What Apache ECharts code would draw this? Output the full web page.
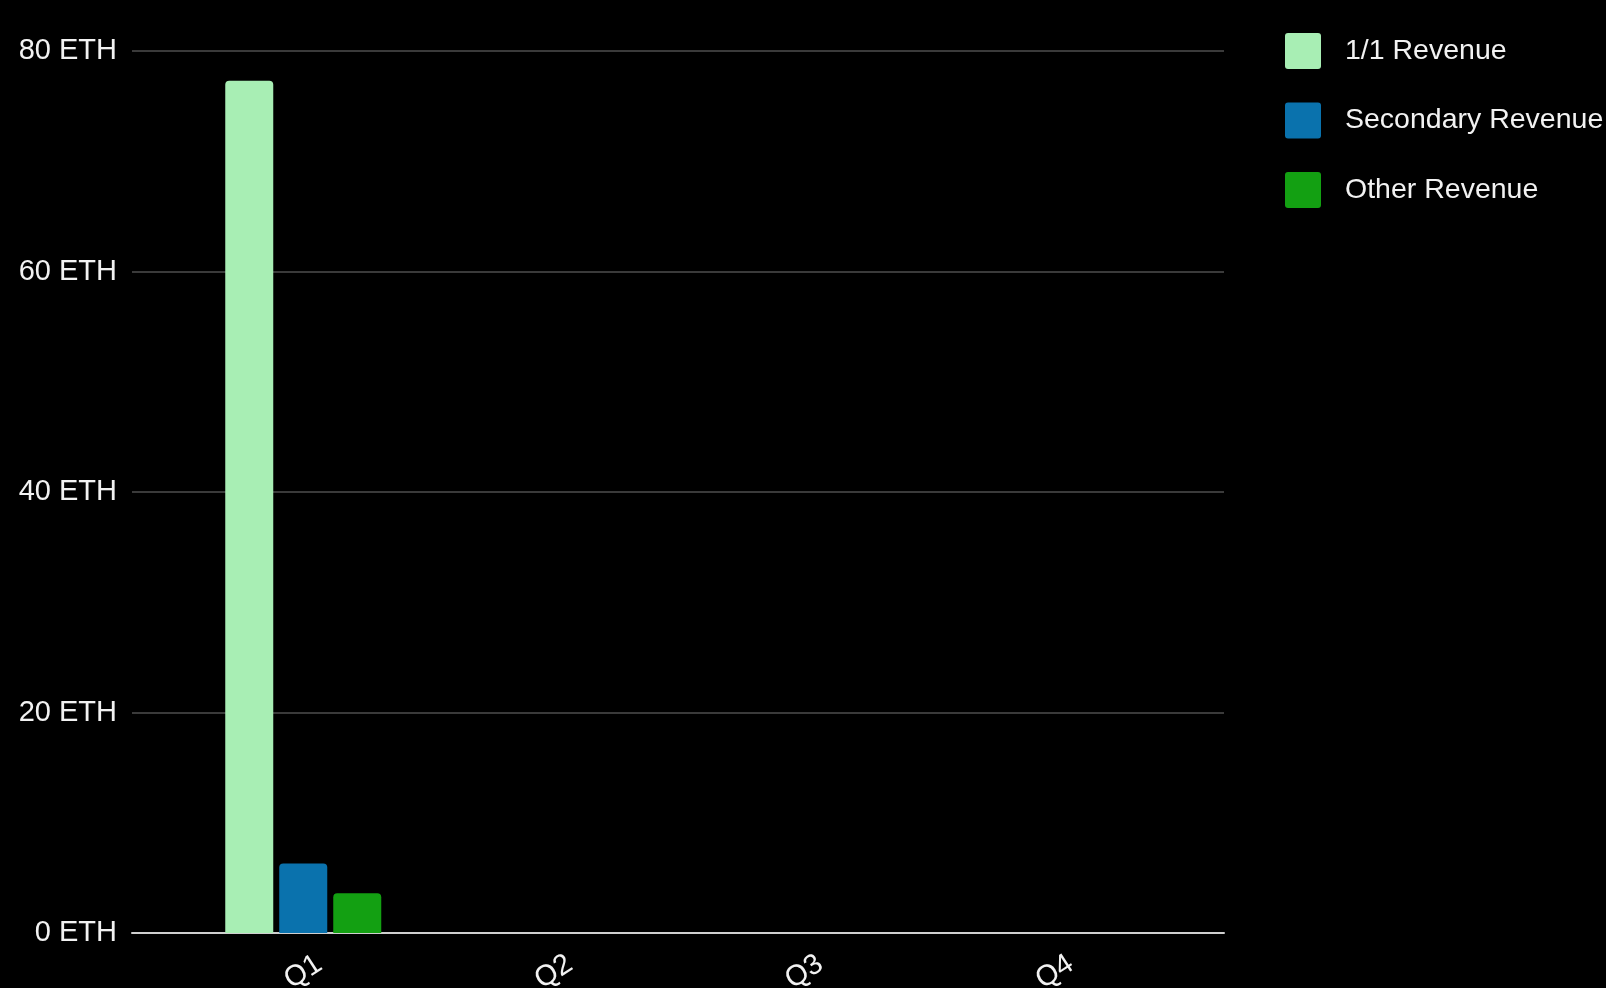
<!DOCTYPE html>
<html>
<head>
<meta charset="utf-8">
<script src="https://cdn.jsdelivr.net/npm/echarts@6/dist/echarts.min.js"></script>
<style>
html,body{margin:0;padding:0;background:#000;}
#chart{width:1606px;height:988px;}
</style>
</head>
<body>
<div id="chart"></div>
<script>
const categories = ['Q1', 'Q2', 'Q3', 'Q4'];
const seriesNames = ['1/1 Revenue', 'Secondary Revenue', 'Other Revenue'];
const oneOfOneRevenue = [77.3, 0, 0, 0];
const secondaryRevenue = [6.3, 0, 0, 0];
const otherRevenue = [3.6, 0, 0, 0];
const yTicks = [0, 20, 40, 60, 80];
const colors = ['#a8eeb4', '#0a72ad', '#13a012'];

const chart = echarts.init(document.getElementById('chart'));
const font = 'Liberation Sans, Arial, sans-serif';
const barStyle = (c) => ({ color: c, borderRadius: [4, 4, 0, 0] });
const legendIcon = 'path://M3,0 H33 Q36,0 36,3 V33 Q36,36 33,36 H3 Q0,36 0,33 V3 Q0,0 3,0 Z';

chart.setOption({
  backgroundColor: '#000',
  animation: false,
  textStyle: { fontFamily: font },
  legend: {
    orient: 'vertical',
    left: 1285,
    top: 33,
    padding: 0,
    itemWidth: 36,
    itemHeight: 36,
    itemGap: 33.5,
    icon: legendIcon,
    textStyle: { color: '#f2f2f2', fontSize: 28.5, fontFamily: font, padding: [0, 0, 0, 19] },
    data: seriesNames
  },
  grid: [
    { left: 132, right: 382, top: 51, bottom: 55, containLabel: false, outerBoundsMode: 'none' },
    { left: 178, right: 426, top: 51, bottom: 55, containLabel: false, outerBoundsMode: 'none' }
  ],
  xAxis: [
    {
      gridIndex: 0, type: 'category', data: [''],
      axisLine: { lineStyle: { color: '#cfcfcf', width: 2 } },
      axisTick: { show: false }, axisLabel: { show: false }, splitLine: { show: false }
    },
    {
      gridIndex: 1, type: 'category', data: categories,
      axisLine: { show: false }, axisTick: { show: false },
      axisLabel: {
        color: '#f2f2f2', fontSize: 29, fontFamily: font, rotate: 33,
        align: 'center', verticalAlign: 'middle', margin: 39
      }
    }
  ],
  yAxis: [
    {
      gridIndex: 0, type: 'value', min: yTicks[0], max: yTicks[yTicks.length - 1], interval: 20,
      axisLine: { show: false }, axisTick: { show: false },
      axisLabel: { color: '#f2f2f2', fontSize: 29, fontFamily: font, margin: 15, formatter: '{value} ETH' },
      splitLine: { lineStyle: { color: '#3a3a3a', width: 2 } }
    },
    {
      gridIndex: 1, type: 'value', min: yTicks[0], max: yTicks[yTicks.length - 1], interval: 20,
      show: false, splitLine: { show: false }
    }
  ],
  series: [
    { name: seriesNames[0], type: 'bar', xAxisIndex: 1, yAxisIndex: 1, data: oneOfOneRevenue,
      barWidth: 48, barGap: '12.5%', itemStyle: barStyle(colors[0]) },
    { name: seriesNames[1], type: 'bar', xAxisIndex: 1, yAxisIndex: 1, data: secondaryRevenue,
      barWidth: 48, barGap: '12.5%', itemStyle: barStyle(colors[1]) },
    { name: seriesNames[2], type: 'bar', xAxisIndex: 1, yAxisIndex: 1, data: otherRevenue,
      barWidth: 48, barGap: '12.5%', itemStyle: barStyle(colors[2]) }
  ]
});
</script>
</body>
</html>
